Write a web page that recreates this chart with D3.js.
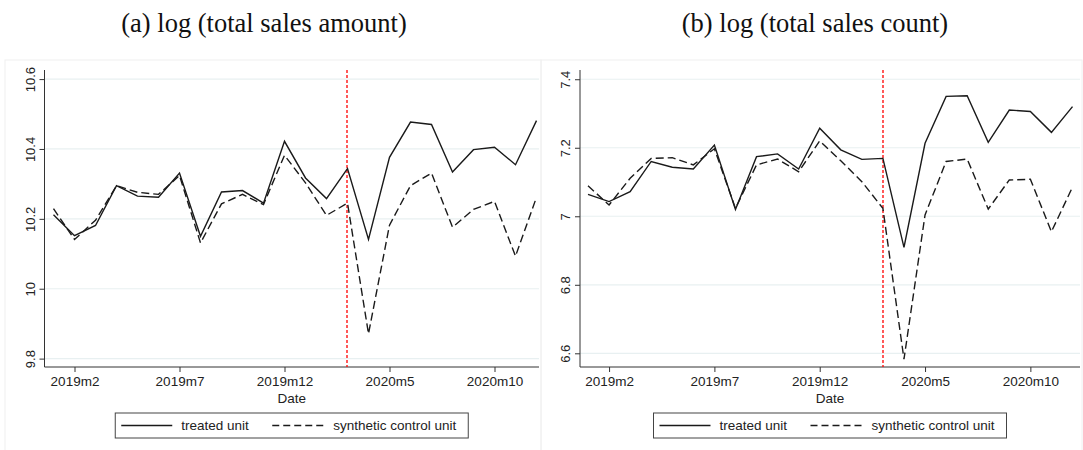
<!DOCTYPE html>
<html>
<head>
<meta charset="utf-8">
<script src="https://cdn.jsdelivr.net/npm/d3@7"></script>
<style>
  body { margin: 0; background: #fff; }
  svg { display: block; }
  .tick text { font-family: "Liberation Sans", Arial, sans-serif; }
</style>
</head>
<body>
<svg id="chart"></svg>
<script>
const width = 1083;
const height = 450;

// months 2019m1 .. 2020m12
const months = ["2019m1","2019m2","2019m3","2019m4","2019m5","2019m6","2019m7","2019m8","2019m9","2019m10","2019m11","2019m12",
  "2020m1","2020m2","2020m3","2020m4","2020m5","2020m6","2020m7","2020m8","2020m9","2020m10","2020m11","2020m12"];
const tickMonths = ["2019m2", "2019m7", "2019m12", "2020m5", "2020m10"];
const treatMonth = "2020m3";

// (a) log total sales amount
const amountTreated = [10.212, 10.152, 10.181, 10.295, 10.265, 10.262, 10.331, 10.150, 10.277, 10.281, 10.245, 10.422,
  10.317, 10.258, 10.344, 10.141, 10.376, 10.477, 10.470, 10.334, 10.398, 10.405, 10.355, 10.481];
const amountSynth = [10.229, 10.141, 10.196, 10.295, 10.276, 10.270, 10.324, 10.131, 10.243, 10.270, 10.241, 10.382,
  10.303, 10.210, 10.245, 9.871, 10.182, 10.295, 10.331, 10.176, 10.227, 10.250, 10.093, 10.262];
const amountTicks = [9.8, 10, 10.2, 10.4, 10.6];

// (b) log total sales count
const countTreated = [7.064, 7.043, 7.072, 7.160, 7.143, 7.138, 7.208, 7.020, 7.174, 7.182, 7.138, 7.257,
  7.194, 7.166, 7.169, 6.909, 7.213, 7.350, 7.352, 7.216, 7.310, 7.306, 7.245, 7.320];
const countSynth = [7.089, 7.033, 7.111, 7.169, 7.171, 7.150, 7.197, 7.023, 7.150, 7.167, 7.130, 7.220,
  7.162, 7.101, 7.023, 6.583, 7.004, 7.160, 7.167, 7.021, 7.106, 7.108, 6.955, 7.085];
const countTicks = [6.6, 6.8, 7, 7.2, 7.4];

const svg = d3.select("#chart")
    .attr("width", width)
    .attr("height", height);

const panels = [
  { title: "(a) log (total sales amount)", treated: amountTreated, synth: amountSynth, ticks: amountTicks,
    yDomain: [9.776, 10.626], frame: [5, 541], axisX: [44.5, 539], xRange: [53.5, 536.5], titleX: 264 },
  { title: "(b) log (total sales count)", treated: countTreated, synth: countSynth, ticks: countTicks,
    yDomain: [6.56, 7.427], frame: [541, 1082], axisX: [580, 1080], xRange: [588, 1072.5], titleX: 815 }
];

const plotTop = 70, plotBottom = 367;
const ink = "#1a1a1a";

panels.forEach(p => {
    const g = svg.append("g");

    // faint outer frame
    g.append("rect")
        .attr("x", p.frame[0]).attr("y", 60)
        .attr("width", p.frame[1] - p.frame[0]).attr("height", 392)
        .attr("fill", "none").attr("stroke", "#f0f0f0");

    g.append("text")
        .attr("x", p.titleX).attr("y", 32)
        .attr("text-anchor", "middle")
        .style("font-family", "'Liberation Serif', 'Times New Roman', serif")
        .style("font-size", "26.5px")
        .attr("fill", "#111")
        .text(p.title);

    const x = d3.scaleLinear().domain([0, months.length - 1]).range(p.xRange);
    const y = d3.scaleLinear().domain(p.yDomain).range([plotBottom, plotTop]);

    // gridlines
    g.selectAll(".grid")
        .data(p.ticks)
        .enter().append("line")
        .attr("x1", p.axisX[0]).attr("x2", p.axisX[1])
        .attr("y1", d => y(d)).attr("y2", d => y(d))
        .attr("stroke", "#e8f0f1").attr("stroke-width", 1.2);

    // y axis
    const yAxis = g.append("g")
        .attr("transform", `translate(${p.axisX[0]},0)`)
        .call(d3.axisLeft(y).tickValues(p.ticks).tickSize(5).tickSizeOuter(0).tickFormat(d3.format("")));
    yAxis.select(".domain").attr("d", `M0,${plotTop}V${plotBottom}`).attr("stroke", "#333");
    yAxis.selectAll(".tick line").attr("stroke", "#333");
    yAxis.selectAll(".tick text")
        .attr("transform", "rotate(-90)")
        .attr("x", 0).attr("y", -10)
        .attr("dy", 0)
        .attr("text-anchor", "middle")
        .style("font-size", "13px")
        .attr("fill", "#222");

    // x axis
    const xAxis = g.append("g")
        .attr("transform", `translate(0,${plotBottom})`)
        .call(d3.axisBottom(x)
            .tickValues(tickMonths.map(m => months.indexOf(m)))
            .tickSize(5).tickSizeOuter(0)
            .tickFormat(i => months[i]));
    xAxis.select(".domain").attr("d", `M${p.axisX[0]},0H${p.axisX[1]}`).attr("stroke", "#333");
    xAxis.selectAll(".tick line").attr("stroke", "#333");
    xAxis.selectAll(".tick text")
        .attr("y", 9)
        .style("font-size", "13.5px")
        .attr("fill", "#222");

    const plotMid = (p.axisX[0] + p.axisX[1]) / 2;
    g.append("text")
        .attr("x", plotMid).attr("y", 403)
        .attr("text-anchor", "middle")
        .style("font-family", "'Liberation Sans', Arial, sans-serif")
        .style("font-size", "13.5px")
        .attr("fill", "#222")
        .text("Date");

    // treatment line (snapped to an even pixel pair so the red stays red)
    const tx = 2 * Math.floor(x(months.indexOf(treatMonth)) / 2) + 1;
    g.append("line")
        .attr("x1", tx).attr("x2", tx)
        .attr("y1", plotTop).attr("y2", plotBottom)
        .attr("stroke", "#ff0000").attr("stroke-width", 1.3)
        .attr("stroke-dasharray", "3,2");

    const line = d3.line().x((d, i) => x(i)).y(d => y(d));

    g.append("path")
        .datum(p.treated)
        .attr("d", line)
        .attr("fill", "none").attr("stroke", ink).attr("stroke-width", 1.4);

    g.append("path")
        .datum(p.synth)
        .attr("d", line)
        .attr("fill", "none").attr("stroke", ink).attr("stroke-width", 1.4)
        .attr("stroke-dasharray", "8,4");

    // legend
    const legW = 353, legH = 25;
    const legend = g.append("g")
        .attr("transform", `translate(${plotMid - legW / 2},413)`);
    legend.append("rect")
        .attr("width", legW).attr("height", legH)
        .attr("fill", "#fff").attr("stroke", "#444").attr("stroke-width", 1);
    legend.append("line")
        .attr("x1", 6).attr("x2", 57).attr("y1", 12.5).attr("y2", 12.5)
        .attr("stroke", ink).attr("stroke-width", 1.3);
    legend.append("text")
        .attr("x", 66).attr("y", 17)
        .style("font-family", "'Liberation Sans', Arial, sans-serif")
        .style("font-size", "13.5px").attr("fill", "#222")
        .text("treated unit");
    legend.append("line")
        .attr("x1", 157).attr("x2", 210).attr("y1", 12.5).attr("y2", 12.5)
        .attr("stroke", ink).attr("stroke-width", 1.3)
        .attr("stroke-dasharray", "7,4");
    legend.append("text")
        .attr("x", 218).attr("y", 17)
        .style("font-family", "'Liberation Sans', Arial, sans-serif")
        .style("font-size", "13.5px").attr("fill", "#222")
        .text("synthetic control unit");
});
</script>
</body>
</html>
